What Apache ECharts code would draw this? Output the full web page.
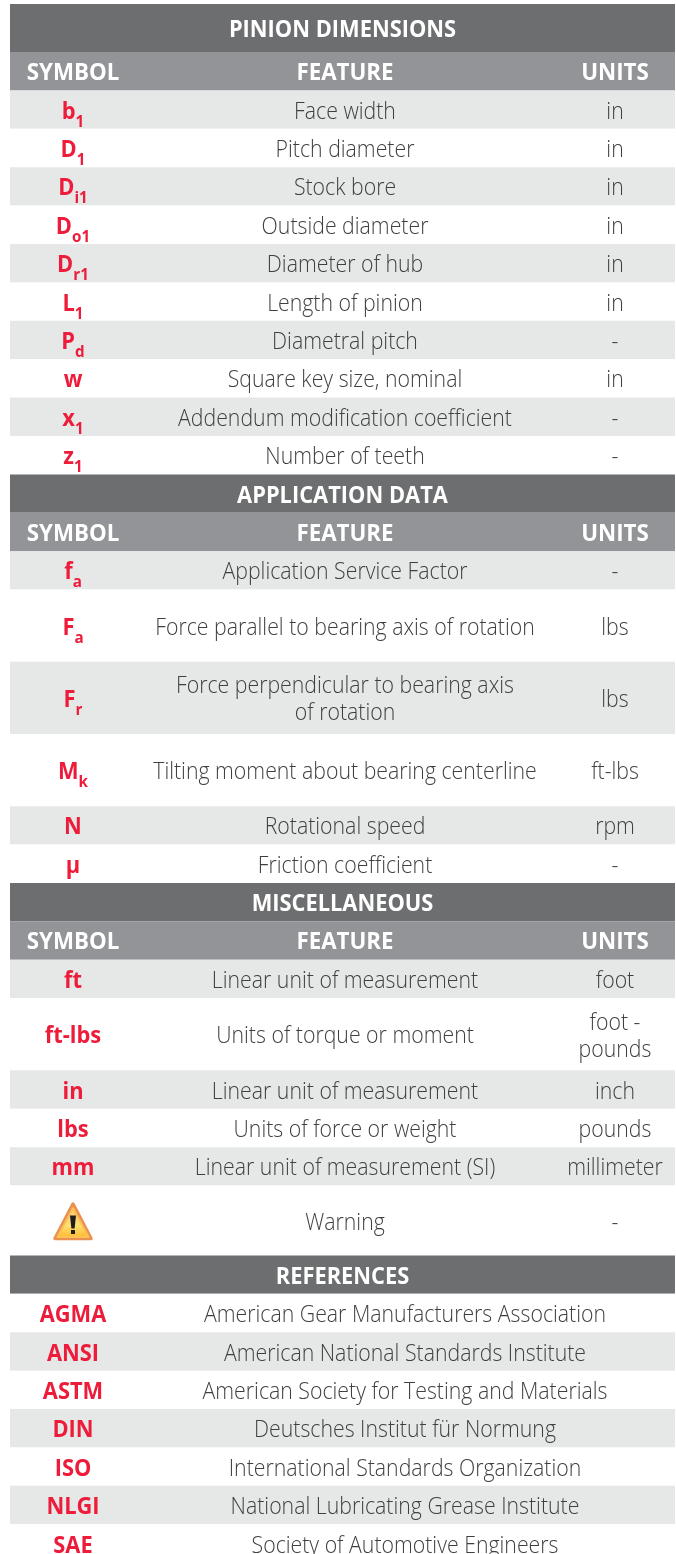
<!DOCTYPE html>
<html><head><meta charset="utf-8">
<style>html,body{margin:0;padding:0;background:#fff}#c{width:676px;height:1554px}</style>
<script src="https://cdn.jsdelivr.net/npm/echarts@6/dist/echarts.min.js"></script>
</head><body><div id="c"></div>
<script>
// --- table content ("_" starts a subscript) ---
const columnHeaders = ['SYMBOL', 'FEATURE', 'UNITS'];
const pinionSymbols = ['b_1','D_1','D_i1','D_o1','D_r1','L_1','P_d','w','x_1','z_1'];
const pinionFeatures = ['Face width','Pitch diameter','Stock bore','Outside diameter','Diameter of hub','Length of pinion','Diametral pitch','Square key size, nominal','Addendum modification coefficient','Number of teeth'];
const pinionUnits = ['in','in','in','in','in','in','-','in','-','-'];
const applicationSymbols = ['f_a','F_a','F_r','M_k','N','μ'];
const applicationFeatures = ['Application Service Factor','Force parallel to bearing axis of rotation','Force perpendicular to bearing axis\nof rotation','Tilting moment about bearing centerline','Rotational speed','Friction coefficient'];
const applicationUnits = ['-','lbs','lbs','ft-lbs','rpm','-'];
const miscSymbols = ['ft','ft-lbs','in','lbs','mm','!'];
const miscFeatures = ['Linear unit of measurement','Units of torque or moment','Linear unit of measurement','Units of force or weight','Linear unit of measurement (SI)','Warning'];
const miscUnits = ['foot','foot -\npounds','inch','pounds','millimeter','-'];
const referenceSymbols = ['AGMA','ANSI','ASTM','DIN','ISO','NLGI','SAE'];
const referenceNames = ['American Gear Manufacturers Association','American National Standards Institute','American Society for Testing and Materials','Deutsches Institut für Normung','International Standards Organization','National Lubricating Grease Institute','Society of Automotive Engineers'];

// --- row heights, in row units ---
const applicationSpans = [1,1.88,1.88,1.88,1,1];
const miscSpans = [1,1.88,1,1,1,1.82];

const RED='#ed1c3a', DARK='#6d6e70', MID='#929497', ZEBRA='#e6e7e7', INK='#3f3f41';
const ROW=38.4;
const rows=[]; let cursor=0;
function add(kind,span,cells,shade){rows.push({value:[cursor,cursor+span],kind,cells,shade});cursor+=span;}
function section(title,titleSpan,syms,feats,units,spans){
  add('title',titleSpan,[title]);
  if(units) add('header',1,columnHeaders);
  syms.forEach((s,i)=>add(units?'body':'ref',spans?spans[i]:1,[s,feats[i],units?units[i]:null],units?i%2===0:i%2===1));
}
section('PINION DIMENSIONS',1.25,pinionSymbols,pinionFeatures,pinionUnits);
section('APPLICATION DATA',1,applicationSymbols,applicationFeatures,applicationUnits,applicationSpans);
section('MISCELLANEOUS',1,miscSymbols,miscFeatures,miscUnits,miscSpans);
section('REFERENCES',1,referenceSymbols,referenceNames,null);

const COLX=[73,345,615], REFX=405, LEFT=10, RIGHT=675;
function plain(t,x,y,font,fill,sx){
  return {type:'text',x,y,scaleX:sx||1,style:{text:t,x:0,y:0,align:'center',verticalAlign:'middle',fontFamily:'Open Sans',fontSize:font[0],fontWeight:font[1],lineHeight:font[2]||undefined,fill}};
}
function symbol(t,x,y){
  const p=t.split('_');
  const txt=p.length>1?`{a|${p[0]}}{s|${p[1]}}`:`{a|${p[0]}}`;
  return {type:'text',x,y,scaleX:0.95,style:{text:txt,x:0,y:0,align:'center',verticalAlign:'middle',
    rich:{a:{fontFamily:'Open Sans',fontSize:23,fontWeight:700,fill:RED,lineHeight:24,verticalAlign:'middle'},
          s:{fontFamily:'Open Sans',fontSize:16,fontWeight:700,fill:RED,lineHeight:16,padding:[20,0,0,0],verticalAlign:'middle'}}}};
}
function warning(x,y){
  return {type:'group',x,y,children:[
    {type:'polygon',shape:{points:[[0,-17.5],[18,17],[-18,17]]},style:{lineWidth:3.5,lineJoin:'round',stroke:'#ea9050',
       fill:{type:'linear',x:0,y:0,x2:0,y2:1,colorStops:[{offset:0,color:'#fbb36a'},{offset:1,color:'#fdb92e'}]}}},
    {type:'polygon',shape:{points:[[0,-13.5],[15.5,15.5],[-15.5,15.5]]},style:{lineWidth:2,lineJoin:'round',stroke:'#fcc055',
       fill:{type:'linear',x:0,y:0,x2:0,y2:1,colorStops:[{offset:0,color:'#fccb78'},{offset:0.6,color:'#ffdf70'},{offset:1,color:'#feb92a'}]}}},
    {type:'polygon',shape:{points:[[-3,-6],[3,-6],[1.6,7],[-1.6,7]]},style:{fill:'#1e1e1e'}},
    {type:'rect',shape:{x:-2,y:8.5,width:4,height:4},style:{fill:'#1e1e1e'}}
  ]};
}
function renderItem(params,api){
  const r=rows[params.dataIndex];
  const top=api.coord([LEFT,api.value(0)])[1], bot=api.coord([LEFT,api.value(1)])[1];
  const l=api.coord([LEFT,0])[0], w=api.coord([RIGHT,0])[0]-l, mid=(top+bot)/2, ty=mid+2.5;
  const X=v=>api.coord([v,0])[0];
  const kids=[];
  const fill=r.kind==='title'?DARK:r.kind==='header'?MID:r.shade?ZEBRA:'#ffffff';
  kids.push({type:'rect',shape:{x:l,y:top,width:w,height:bot-top},style:{fill}});
  if(r.kind==='title') kids.push(plain(r.cells[0],X((LEFT+RIGHT)/2),mid+2.5,[23,700],'#fff',0.95));
  else if(r.kind==='header') r.cells.forEach((c,i)=>kids.push(plain(c,X(COLX[i]),mid+2,[24,700],'#fff',0.93)));
  else {
    if(r.cells[0]==='!') kids.push(warning(X(COLX[0]),mid+1));
    else kids.push(symbol(r.cells[0],X(COLX[0]),mid+2.5));
    const sx=0.925, f=[23,300,27];
    if(r.kind==='ref') kids.push(plain(r.cells[1],X(REFX),ty,f,INK,sx));
    else {
      kids.push(plain(r.cells[1],X(COLX[1]),ty,f,INK,sx));
      kids.push(plain(r.cells[2],X(COLX[2]),ty,f,INK,sx));
    }
  }
  return {type:'group',children:kids};
}
const offsetTop=4/ROW;
const chart=echarts.init(document.getElementById('c'));
chart.setOption({
  animation:false,backgroundColor:'#fff',
  grid:{left:0,right:0,top:0,bottom:0},
  xAxis:{type:'value',min:0,max:676,show:false},
  yAxis:{type:'value',inverse:true,min:-offsetTop,max:(1554-4)/ROW,show:false},
  series:[{type:'custom',coordinateSystem:'cartesian2d',clip:true,silent:true,encode:{y:[0,1]},
    data:rows.map(r=>r.value),renderItem}]
});
</script></body></html>
